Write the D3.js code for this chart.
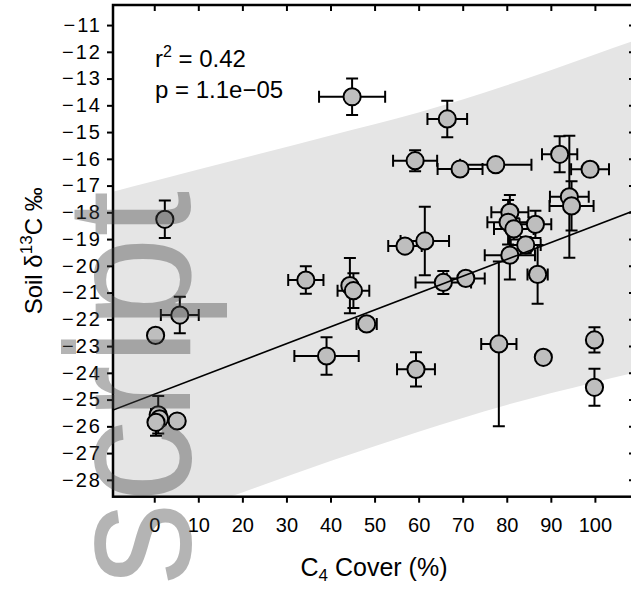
<!DOCTYPE html>
<html>
<head>
<meta charset="utf-8">
<script src="https://cdn.jsdelivr.net/npm/d3@7"></script>
<style>
  body { margin: 0; background: #fff; }
  svg { display: block; }
  text { font-family: "Liberation Sans", Arial, sans-serif; }
</style>
</head>
<body>
<svg id="chart"></svg>
<script>
// C4 cover (%) and its error, soil d13C and its error (0 = no bar drawn)
const cover    = [44.9, 66.5, 59.2, 69.4, 77.5, 92.0, 94.2, 94.7, 98.9, 80.7, 80.3, 81.6, 86.5, 84.3, 80.7, 87.0, 78.2, 70.7, 65.6, 61.4, 56.9, 34.4, 44.4, 45.2, 48.2, 39.1, 59.4, 88.3, 99.9, 99.9, 2.4, 5.8, 0.3, 0.9, 1.2, 0.4, 5.2];
const coverErr = [7.5, 4.5, 5.0, 5.1, 8.1, 4.0, 4.4, 5.0, 4.3, 4.2, 4.7, 4.5, 3.6, 3.4, 5.7, 2.3, 4.0, 4.3, 6.3, 5.5, 3.8, 4.0, 0, 3.6, 2.3, 7.3, 4.3, 0, 0, 0, 0, 4.3, 0, 0, 0, 0, 0];
const soil     = [-13.68, -14.51, -16.07, -16.38, -16.22, -15.83, -17.42, -17.76, -16.39, -18.0, -18.37, -18.62, -18.45, -19.22, -19.6, -20.32, -22.92, -20.47, -20.62, -19.07, -19.26, -20.53, -20.74, -20.93, -22.17, -23.37, -23.87, -23.42, -22.77, -24.54, -18.26, -21.84, -22.6, -25.57, -25.72, -25.85, -25.8];
const soilErr  = [0.68, 0.68, 0.39, 0, 0, 0.67, 2.28, 0.92, 0, 0.65, 0.83, 0.4, 0.51, 0.3, 0.91, 1.1, 3.08, 0, 0.43, 1.28, 0, 0.51, 1.03, 0.65, 0, 0.70, 0.64, 0, 0.47, 0.69, 0.70, 0.68, 0, 0.70, 0, 0.5, 0];

// shaded band
const bandX     = [-10, 0, 20, 40, 60, 80, 100, 110];
const bandUpper = [-17.26, -16.83, -15.98, -15.13, -14.27, -13.25, -12.10, -11.52];
const bandLower = [-30.2, -29.6, -28.47, -27.3, -26.2, -25.2, -24.35, -23.95];

// regression line
const fitIntercept = -24.80;
const fitSlope = 0.063;

const xTicks = [0, 10, 20, 30, 40, 50, 60, 70, 80, 90, 100];
const yTicks = [-11, -12, -13, -14, -15, -16, -17, -18, -19, -20, -21, -22, -23, -24, -25, -26, -27, -28];

const width = 631;
const height = 589;
const plot = { left: 113, top: 5, right: 635, bottom: 496.7 };

const x = d3.scaleLinear().domain([-9.36, 109.1]).range([plot.left, plot.right]);
const y = d3.scaleLinear().domain([-28.63, -10.25]).range([plot.bottom, plot.top]);

const svg = d3.select("#chart")
    .attr("width", width)
    .attr("height", height)
    .attr("viewBox", [0, 0, width, height]);

svg.append("clipPath").attr("id", "clip")
  .append("rect")
    .attr("x", plot.left).attr("y", plot.top)
    .attr("width", plot.right - plot.left)
    .attr("height", plot.bottom - plot.top);

const inner = svg.append("g").attr("clip-path", "url(#clip)");

const band = bandX.map((d, i) => ({ x: d, lo: bandLower[i], hi: bandUpper[i] }));
inner.append("path")
    .datum(band)
    .attr("fill", "#e5e5e5")
    .attr("d", d3.area()
        .curve(d3.curveMonotoneX)
        .x(d => x(d.x))
        .y0(d => y(d.lo))
        .y1(d => y(d.hi)));

const pts = cover.map((c, i) => ({ c, ce: coverErr[i], s: soil[i], se: soilErr[i] }));
const cap = 6;
const bars = inner.append("g")
    .attr("stroke", "#000")
    .attr("stroke-width", 2)
    .attr("fill", "none");

pts.filter(d => d.se > 0).forEach(d => {
  const px = x(d.c), y0 = y(d.s - d.se), y1 = y(d.s + d.se);
  bars.append("path").attr("d", `M${px},${y0}V${y1}M${px - cap},${y0}H${px + cap}M${px - cap},${y1}H${px + cap}`);
});
pts.filter(d => d.ce > 0).forEach(d => {
  const py = y(d.s), x0 = x(d.c - d.ce), x1 = x(d.c + d.ce);
  bars.append("path").attr("d", `M${x0},${py}H${x1}M${x0},${py - cap}V${py + cap}M${x1},${py - cap}V${py + cap}`);
});

inner.append("g")
  .selectAll("circle")
  .data(pts)
  .join("circle")
    .attr("cx", d => x(d.c))
    .attr("cy", d => y(d.s))
    .attr("r", 8.6)
    .attr("fill", "#bebebe")
    .attr("stroke", "#000")
    .attr("stroke-width", 2);

const xd = x.domain();
inner.append("line")
    .attr("x1", x(xd[0])).attr("y1", y(fitIntercept + fitSlope * xd[0]))
    .attr("x2", x(xd[1])).attr("y2", y(fitIntercept + fitSlope * xd[1]))
    .attr("stroke", "#000")
    .attr("stroke-width", 1.6);

// axes
const fmt = d3.format("d");
const gl = svg.append("g")
    .attr("transform", `translate(${plot.left},0)`)
    .call(d3.axisLeft(y).tickValues(yTicks).tickFormat(fmt).tickSize(6).tickPadding(5));
const gb = svg.append("g")
    .attr("transform", `translate(0,${plot.bottom})`)
    .call(d3.axisBottom(x).tickValues(xTicks).tickFormat(fmt).tickSize(6).tickPadding(15));
const gt = svg.append("g")
    .attr("transform", `translate(0,${plot.top})`)
    .call(d3.axisTop(x).tickValues(xTicks).tickFormat("").tickSize(-6));
const gr = svg.append("g")
    .attr("transform", `translate(${plot.right},0)`)
    .call(d3.axisRight(y).tickValues(yTicks).tickFormat("").tickSize(-6));

[gl, gb, gt, gr].forEach(g => {
  g.select(".domain").remove();
  g.selectAll(".tick line").attr("stroke", "#000").attr("stroke-width", 2);
  g.selectAll("text").attr("fill", "#000").style("font-size", "20px")
    .style("font-family", '"Liberation Sans", Arial, sans-serif');
});
gl.selectAll("text").style("letter-spacing", "2px");

svg.append("rect")
    .attr("x", plot.left).attr("y", plot.top)
    .attr("width", plot.right - plot.left)
    .attr("height", plot.bottom - plot.top)
    .attr("fill", "none")
    .attr("stroke", "#000")
    .attr("stroke-width", 2.5);

// axis titles
const xl = svg.append("text")
    .attr("x", (plot.left + plot.right) / 2)
    .attr("y", 576)
    .attr("text-anchor", "middle")
    .style("font-size", "25px");
xl.append("tspan").text("C");
xl.append("tspan").attr("dy", 5).style("font-size", "17px").text("4");
xl.append("tspan").attr("dy", -5).text(" Cover (%)");

const yl = svg.append("text")
    .attr("transform", `translate(42,${(plot.top + plot.bottom) / 2}) rotate(-90)`)
    .attr("text-anchor", "middle")
    .style("font-size", "24px");
yl.append("tspan").text("Soil \u03B4");
yl.append("tspan").attr("dy", -10).style("font-size", "17px").text("13");
yl.append("tspan").attr("dy", 10).text("C \u2030");

// stats
const r2 = svg.append("text").attr("x", 155).attr("y", 67).style("font-size", "24px");
r2.append("tspan").text("r");
r2.append("tspan").attr("dy", -10).style("font-size", "16px").text("2");
r2.append("tspan").attr("dy", 10).text(" = 0.42");
svg.append("text").attr("x", 155).attr("y", 98).style("font-size", "24px").text("p = 1.1e\u221205");

// watermark
svg.append("text")
    .attr("transform", "translate(190,585) scale(1.08,1) rotate(-90)")
    .style("font-size", "165px")
    .attr("fill", "#444")
    .attr("fill-opacity", 0.4)
    .text("script");
</script>
</body>
</html>
